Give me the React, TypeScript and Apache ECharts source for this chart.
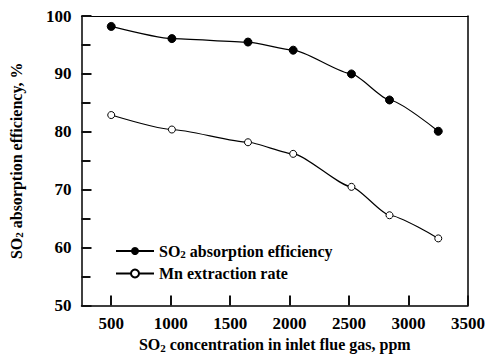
import React, { useEffect, useRef } from "react";
import * as echarts from "echarts";

const concentration = [500, 1010, 1650, 2030, 2520, 2840, 3250];
const so2Efficiency = [98.2, 96.1, 95.5, 94.1, 90.0, 85.5, 80.1];
const mnExtraction = [82.9, 80.4, 78.2, 76.2, 70.5, 65.6, 61.6];
const xTickValues = [500, 1000, 1500, 2000, 2500, 3000, 3500];
const seriesNames = ["SO2 absorption efficiency", "Mn extraction rate"];

const FONT = "Liberation Serif";

const richStyles = {
  a: { fontFamily: FONT, fontWeight: "bold", fontSize: 16, color: "#000" },
  s: { fontFamily: FONT, fontWeight: "bold", fontSize: 11, color: "#000", verticalAlign: "bottom", padding: [6, 0, 0, 0] },
};

function richSO2(text: string) {
  const rest = text.replace(/^SO2/, "");
  if (text.startsWith("SO2")) return `{a|SO}{s|2}{a|${rest}}`;
  return `{a|${text}}`;
}

const labelStyle = { fontFamily: FONT, fontWeight: "bold", fontSize: 17, color: "#000" };
const tickLine = { color: "#111", width: 2 };

export default function App() {
  const ref = useRef<HTMLDivElement>(null);
  useEffect(() => {
    if (!ref.current) return;
    const chart = echarts.init(ref.current, undefined, { renderer: "svg" });
    chart.setOption({
      animation: false,
      backgroundColor: "#fff",
      grid: { left: 78, right: 18, top: 16, bottom: 52 },
      legend: {
        orient: "vertical",
        left: 110,
        top: 238,
        itemWidth: 38,
        itemHeight: 10,
        itemGap: 6,
        data: seriesNames,
        formatter: (name: string) => richSO2(name),
        textStyle: { rich: richStyles },
      },
      xAxis: [
        {
          type: "value",
          min: 250,
          max: 3500,
          name: "{a|SO}{s|2}{a| concentration in inlet flue gas, ppm}",
          nameLocation: "middle",
          nameGap: 30,
          nameTextStyle: { rich: richStyles },
          axisLine: { show: true, onZero: false, lineStyle: { color: "#000", width: 1.5 } },
          axisTick: { show: true, inside: true, length: 10, customValues: xTickValues, lineStyle: tickLine },
          axisLabel: { customValues: xTickValues, formatter: (v: number) => String(v), margin: 9, ...labelStyle },
          splitLine: { show: false },
        },
        {
          type: "value",
          position: "top",
          min: 250,
          max: 3500,
          axisLine: { show: true, onZero: false, lineStyle: { color: "#000", width: 1.2 } },
          axisTick: { show: false },
          axisLabel: { show: false },
          splitLine: { show: false },
        },
      ],
      yAxis: [
        {
          type: "value",
          min: 50,
          max: 100,
          interval: 10,
          name: "{a|SO}{s|2}{a| absorption efficiency, %}",
          nameLocation: "middle",
          nameRotate: 90,
          nameGap: 57,
          nameTextStyle: { rich: richStyles },
          axisLine: { show: true, onZero: false, lineStyle: { color: "#000", width: 1.5 } },
          axisTick: { show: true, inside: true, length: 10, lineStyle: tickLine },
          minorTick: { show: true, splitNumber: 2, length: 9, lineStyle: tickLine },
          axisLabel: { margin: 10, ...labelStyle },
          splitLine: { show: false },
        },
        {
          type: "value",
          position: "right",
          min: 50,
          max: 100,
          axisLine: { show: true, onZero: false, lineStyle: { color: "#000", width: 1.5 } },
          axisTick: { show: false },
          axisLabel: { show: false },
          splitLine: { show: false },
        },
      ],
      series: [
        {
          name: seriesNames[0],
          type: "line",
          smooth: 0.2,
          smoothMonotone: "x",
          data: concentration.map((x, i) => [x, so2Efficiency[i]]),
          symbol: "circle",
          symbolSize: 8,
          itemStyle: { color: "#000", borderColor: "#000" },
          lineStyle: { color: "#000", width: 1.2 },
        },
        {
          name: seriesNames[1],
          type: "line",
          smooth: 0.2,
          smoothMonotone: "x",
          data: concentration.map((x, i) => [x, mnExtraction[i]]),
          symbol: "circle",
          symbolSize: 7,
          itemStyle: { color: "#fff", borderColor: "#000", borderWidth: 1 },
          lineStyle: { color: "#000", width: 1.2 },
        },
      ],
    });
    return () => chart.dispose();
  }, []);
  return <div ref={ref} style={{ width: 488, height: 358, position: "absolute", left: 0, top: 0 }} />;
}
